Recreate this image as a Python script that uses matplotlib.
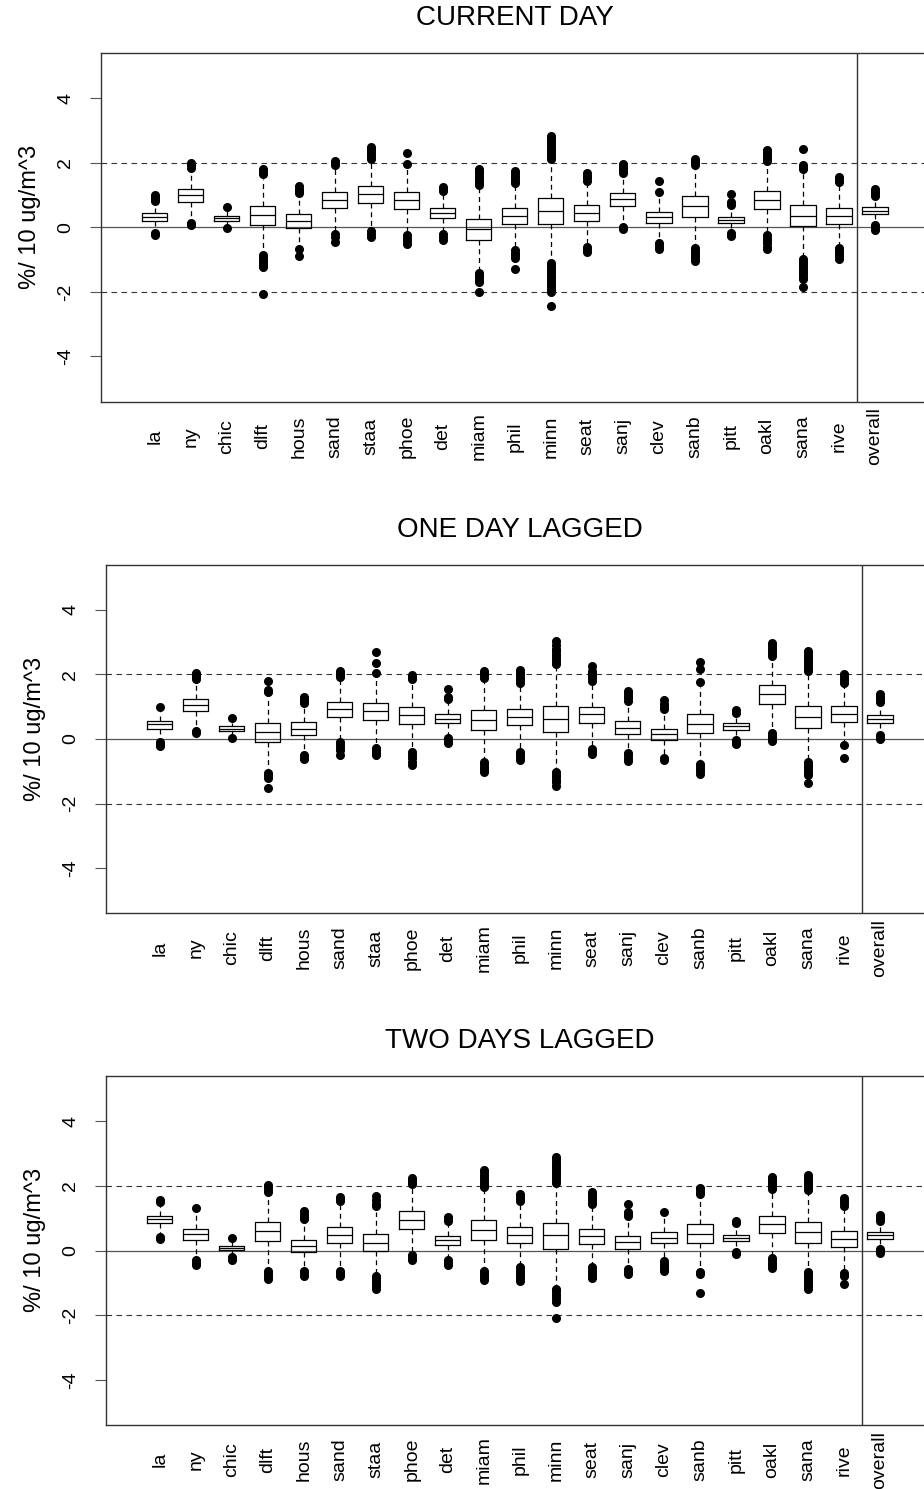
import matplotlib
matplotlib.use('Agg')
import matplotlib.pyplot as plt

plt.rcParams['font.family'] = ['Liberation Sans', 'DejaVu Sans']

sites = ['la', 'ny', 'chic', 'dlft', 'hous', 'sand', 'staa', 'phoe', 'det', 'miam', 'phil',
         'minn', 'seat', 'sanj', 'clev', 'sanb', 'pitt', 'oakl', 'sana', 'rive', 'overall']
titles = ['CURRENT DAY', 'ONE DAY LAGGED', 'TWO DAYS LAGGED']
ylab = '%/ 10 ug/m^3'
yticks = [-4, -2, 0, 2, 4]
ytick_labels = ['-4', '-2', '0', '2', '4']

# current day
med1 = [0.33, 1.00, 0.29, 0.37, 0.21, 0.86, 1.02, 0.86, 0.45, -0.04, 0.36, 0.52, 0.44, 0.87, 0.31, 0.65, 0.24, 0.86, 0.36, 0.36, 0.52]
q1_1 = [0.20, 0.78, 0.21, 0.06, -0.01, 0.59, 0.74, 0.58, 0.29, -0.39, 0.09, 0.11, 0.20, 0.67, 0.12, 0.33, 0.14, 0.58, 0.03, 0.11, 0.40]
q3_1 = [0.44, 1.20, 0.36, 0.65, 0.40, 1.09, 1.29, 1.10, 0.60, 0.26, 0.60, 0.92, 0.69, 1.06, 0.48, 0.96, 0.33, 1.12, 0.70, 0.61, 0.64]
wlo1 = [-0.08, 0.22, 0.06, -0.75, -0.6, -0.15, -0.02, -0.15, -0.12, -1.28, -0.6, -1.0, -0.5, 0.12, -0.4, -0.55, -0.1, -0.15, -0.9, -0.55, 0.13]
whi1 = [0.75, 1.8, 0.5, 1.5, 1.0, 1.85, 2.05, 1.9, 1.05, 1.2, 1.3, 2.05, 1.35, 1.6, 0.95, 1.85, 0.6, 2.0, 1.7, 1.3, 0.92]
out1 = [
    [0.82, 0.88, 0.94, 1.0, -0.16, -0.24],
    [1.85, 1.92, 1.98, 0.07, 0.13],
    [0.63, -0.03],
    [1.65, 1.72, 1.81, -0.85, -0.92, -1.0, -1.08, -1.16, -1.23, -2.05],
    [1.06, 1.13, 1.2, 1.27, -0.68, -0.88],
    [1.92, 1.98, 2.04, -0.2, -0.3, -0.45],
    [2.12, 2.2, 2.28, 2.36, 2.44, 2.5, -0.12, -0.2, -0.3],
    [1.97, 2.3, -0.24, -0.32, -0.42, -0.52],
    [1.13, 1.2, 1.25, -0.2, -0.3, -0.38],
    [1.3, 1.38, 1.45, 1.52, 1.6, 1.67, 1.75, 1.8, -1.4, -1.48, -1.55, -1.62, -1.7, -2.0],
    [1.38, 1.45, 1.52, 1.6, 1.68, 1.75, -0.7, -0.78, -0.86, -0.94, -1.28],
    [2.12, 2.2, 2.28, 2.36, 2.44, 2.52, 2.6, 2.68, 2.76, 2.84, -1.1, -1.18, -1.26, -1.34, -1.42,
     -1.5, -1.58, -1.66, -1.74, -1.82, -1.9, -2.0, -2.45],
    [1.45, 1.52, 1.6, 1.67, -0.6, -0.68, -0.76],
    [1.68, 1.75, 1.82, 1.9, 1.97, 0.02, -0.04],
    [1.1, 1.43, -0.5, -0.58, -0.66],
    [1.92, 1.98, 2.05, 2.12, -0.65, -0.72, -0.8, -0.88, -0.96, -1.05],
    [0.68, 0.74, 0.8, 1.04, -0.18, -0.26],
    [2.06, 2.12, 2.2, 2.28, 2.36, 2.4, -0.25, -0.32, -0.4, -0.5, -0.6, -0.66],
    [1.8, 1.87, 1.94, 2.43, -0.98, -1.06, -1.14, -1.22, -1.3, -1.38, -1.46, -1.54, -1.6, -1.84],
    [1.4, 1.48, 1.56, -0.65, -0.73, -0.81, -0.89, -0.97],
    [0.98, 1.05, 1.12, 1.2, 0.07, 0.0, -0.08],
]

# one day lagged
med2 = [0.45, 1.05, 0.32, 0.21, 0.31, 0.94, 0.87, 0.73, 0.63, 0.59, 0.68, 0.62, 0.77, 0.34, 0.15, 0.48, 0.40, 1.38, 0.68, 0.77, 0.61]
q1_2 = [0.31, 0.87, 0.25, -0.09, 0.13, 0.68, 0.59, 0.46, 0.49, 0.27, 0.42, 0.22, 0.49, 0.15, -0.03, 0.19, 0.29, 1.09, 0.33, 0.53, 0.49]
q3_2 = [0.56, 1.24, 0.39, 0.49, 0.52, 1.16, 1.11, 1.00, 0.76, 0.89, 0.94, 1.03, 1.00, 0.55, 0.32, 0.79, 0.49, 1.67, 1.03, 1.01, 0.73]
wlo2 = [0.0, 0.32, 0.1, -0.95, -0.42, 0.0, -0.15, -0.3, 0.1, -0.6, -0.3, -0.95, -0.2, -0.35, -0.5, -0.65, 0.05, 0.25, -0.6, -0.1, 0.2]
whi2 = [0.85, 1.75, 0.5, 1.3, 1.05, 1.85, 1.9, 1.75, 1.15, 1.8, 1.65, 2.2, 1.7, 1.05, 0.85, 1.6, 0.75, 2.5, 2.0, 1.65, 1.05]
out2 = [
    [1.0, -0.1, -0.18, -0.22],
    [1.85, 1.92, 1.98, 2.05, 0.18, 0.24],
    [0.64, 0.03],
    [1.45, 1.52, 1.81, -1.04, -1.12, -1.2, -1.53],
    [1.12, 1.18, 1.25, 1.3, -0.5, -0.58, -0.62],
    [1.93, 1.98, 2.04, 2.1, -0.08, -0.15, -0.25, -0.35, -0.5],
    [2.04, 2.34, 2.68, -0.27, -0.35, -0.43, -0.5],
    [1.85, 1.92, 1.98, -0.4, -0.5, -0.6, -0.7, -0.8],
    [1.24, 1.3, 1.55, 0.03, -0.05, -0.13],
    [1.9, 1.97, 2.04, 2.1, -0.7, -0.78, -0.86, -0.94, -1.02],
    [1.75, 1.82, 1.9, 1.98, 2.06, 2.13, -0.4, -0.48, -0.56, -0.65],
    [2.32, 2.4, 2.48, 2.56, 2.64, 2.72, 2.8, 2.9, 3.05, -1.02, -1.1, -1.18, -1.26, -1.34, -1.45],
    [1.8, 1.88, 1.96, 2.04, 2.1, 2.27, -0.3, -0.38, -0.46],
    [1.18, 1.26, 1.34, 1.42, 1.5, -0.43, -0.5, -0.58, -0.68],
    [0.92, 1.0, 1.08, 1.2, -0.6, -0.65],
    [1.76, 2.16, 2.4, -0.76, -0.84, -0.92, -1.0, -1.08],
    [0.82, 0.9, -0.03, -0.12, -0.16],
    [2.58, 2.66, 2.74, 2.82, 2.9, 2.96, 0.18, 0.1, 0.02, -0.05],
    [2.1, 2.18, 2.26, 2.34, 2.42, 2.5, 2.58, 2.66, 2.74, -0.72, -0.8, -0.88, -0.96, -1.04, -1.1, -1.36],
    [1.75, 1.82, 1.9, 1.98, 2.02, -0.2, -0.6],
    [1.14, 1.2, 1.26, 1.32, 1.4, 0.13, 0.06, 0.0],
]

# two days lagged
med3 = [0.96, 0.51, 0.08, 0.59, 0.15, 0.49, 0.24, 0.95, 0.31, 0.64, 0.48, 0.48, 0.45, 0.25, 0.40, 0.52, 0.38, 0.82, 0.56, 0.35, 0.47]
q1_3 = [0.84, 0.32, 0.02, 0.29, -0.05, 0.23, -0.01, 0.68, 0.17, 0.32, 0.22, 0.05, 0.21, 0.04, 0.23, 0.22, 0.29, 0.55, 0.24, 0.10, 0.36]
q3_3 = [1.08, 0.68, 0.15, 0.87, 0.33, 0.73, 0.50, 1.21, 0.45, 0.94, 0.73, 0.85, 0.68, 0.45, 0.58, 0.81, 0.48, 1.07, 0.87, 0.60, 0.57]
wlo3 = [0.55, -0.2, -0.15, -0.55, -0.55, -0.5, -0.7, -0.1, -0.25, -0.55, -0.45, -1.1, -0.45, -0.5, -0.25, -0.6, 0.0, -0.15, -0.6, -0.6, 0.1]
whi3 = [1.4, 1.2, 0.33, 1.7, 0.88, 1.45, 1.2, 1.95, 0.85, 1.85, 1.45, 2.0, 1.35, 0.95, 1.0, 1.65, 0.75, 1.8, 1.8, 1.25, 0.85]
out3 = [
    [1.5, 1.57, 0.35, 0.42],
    [1.32, -0.3, -0.38, -0.46],
    [0.4, -0.2, -0.3],
    [1.8, 1.88, 1.96, 2.04, -0.62, -0.7, -0.78, -0.87],
    [0.97, 1.05, 1.13, 1.22, -0.62, -0.7, -0.8],
    [1.52, 1.58, 1.65, -0.62, -0.7, -0.8],
    [1.37, 1.45, 1.55, 1.7, -0.78, -0.86, -0.94, -1.02, -1.1, -1.2],
    [2.05, 2.12, 2.18, 2.25, -0.15, -0.22, -0.3],
    [0.92, 1.0, 1.05, -0.3, -0.38, -0.44],
    [1.95, 2.02, 2.1, 2.18, 2.26, 2.34, 2.42, 2.5, -0.62, -0.7, -0.78, -0.86, -0.92],
    [1.53, 1.6, 1.68, 1.76, -0.52, -0.6, -0.68, -0.76, -0.85, -0.93],
    [2.1, 2.18, 2.26, 2.34, 2.42, 2.5, 2.58, 2.66, 2.74, 2.82, 2.9, -1.18, -1.26, -1.34, -1.42, -1.5, -1.6, -2.1],
    [1.43, 1.5, 1.58, 1.66, 1.74, 1.82, -0.52, -0.6, -0.68, -0.76, -0.84],
    [1.07, 1.14, 1.18, 1.44, -0.58, -0.65, -0.72],
    [1.18, -0.33, -0.41, -0.49, -0.57, -0.62],
    [1.75, 1.82, 1.9, 1.94, -0.66, -0.74, -1.31],
    [0.84, 0.9, -0.06, -0.1],
    [1.9, 1.97, 2.04, 2.1, 2.16, 2.22, 2.28, -0.22, -0.3, -0.38, -0.46, -0.55],
    [1.88, 1.95, 2.02, 2.1, 2.18, 2.26, 2.34, -0.66, -0.74, -0.82, -0.9, -0.98, -1.06, -1.14, -1.2],
    [1.38, 1.46, 1.54, 1.62, -0.7, -0.8, -1.05],
    [0.92, 0.98, 1.05, 1.1, 0.04, -0.03, -0.08],
]

panels = [
    (med1, q1_1, q3_1, wlo1, whi1, out1),
    (med2, q1_2, q3_2, wlo2, whi2, out2),
    (med3, q1_3, q3_3, wlo3, whi3, out3),
]

W, H = 924, 1489
fig = plt.figure(figsize=(W / 100, H / 100), dpi=100)

# axes boxes in pixels: left, top, bottom (right edge runs off the page)
boxes_px = [(100.7, 53, 401.7), (105.7, 564.7, 913.3), (105.7, 1076, 1425)]
axw = 828.3
pos = list(range(1, len(sites) + 1))

for k, (left, top, bot) in enumerate(boxes_px):
    ax = fig.add_axes([left / W, 1 - bot / H, axw / W, (bot - top) / H])
    med, q1, q3, wlo, whi, out = panels[k]
    stats = []
    for i in range(len(sites)):
        stats.append({'med': med[i], 'q1': q1[i], 'q3': q3[i],
                      'whislo': wlo[i], 'whishi': whi[i], 'fliers': out[i]})

    ax.axhline(0, color='#555555', lw=0.9, zorder=1)
    for yy in (2, -2):
        ax.axhline(yy, color='#333333', lw=0.8, ls=(0, (5, 4)), zorder=1)
    ax.axvline(20.5, color='#333333', lw=1.0, zorder=1)

    ax.bxp(stats, positions=pos, widths=0.7, showcaps=False,
           boxprops=dict(color='black', lw=0.9),
           medianprops=dict(color='black', lw=0.9),
           whiskerprops=dict(color='black', lw=0.9, ls=(0, (4, 3))),
           flierprops=dict(marker='o', markerfacecolor='black',
                           markeredgecolor='black', markersize=5.5),
           zorder=2)

    ax.set_xlim(-0.5, 22.5)
    ax.set_ylim(-5.4, 5.4)
    for s in ax.spines.values():
        s.set_color('#333333')
        s.set_linewidth(1.0)

    ax.set_xticks(pos)
    ax.set_xticklabels(sites, rotation=90, va='center', ha='center', fontsize=14)
    ax.tick_params(axis='x', length=0, pad=25)

    ax.set_yticks(yticks)
    ax.set_yticklabels(ytick_labels, rotation=90, va='center', ha='center', fontsize=14)
    ax.tick_params(axis='y', length=7.7, pad=17.5, color='#555555')

    ax.set_ylabel(ylab, fontsize=17, va='center')
    ax.yaxis.set_label_coords(-71.0 / axw, 0.53)

    ax.annotate(titles[k], xy=(0.5, 1), xycoords='axes fraction',
                xytext=(0, 25), textcoords='offset points',
                ha='center', va='center', fontsize=20)

fig.savefig('out.png', dpi=100)
